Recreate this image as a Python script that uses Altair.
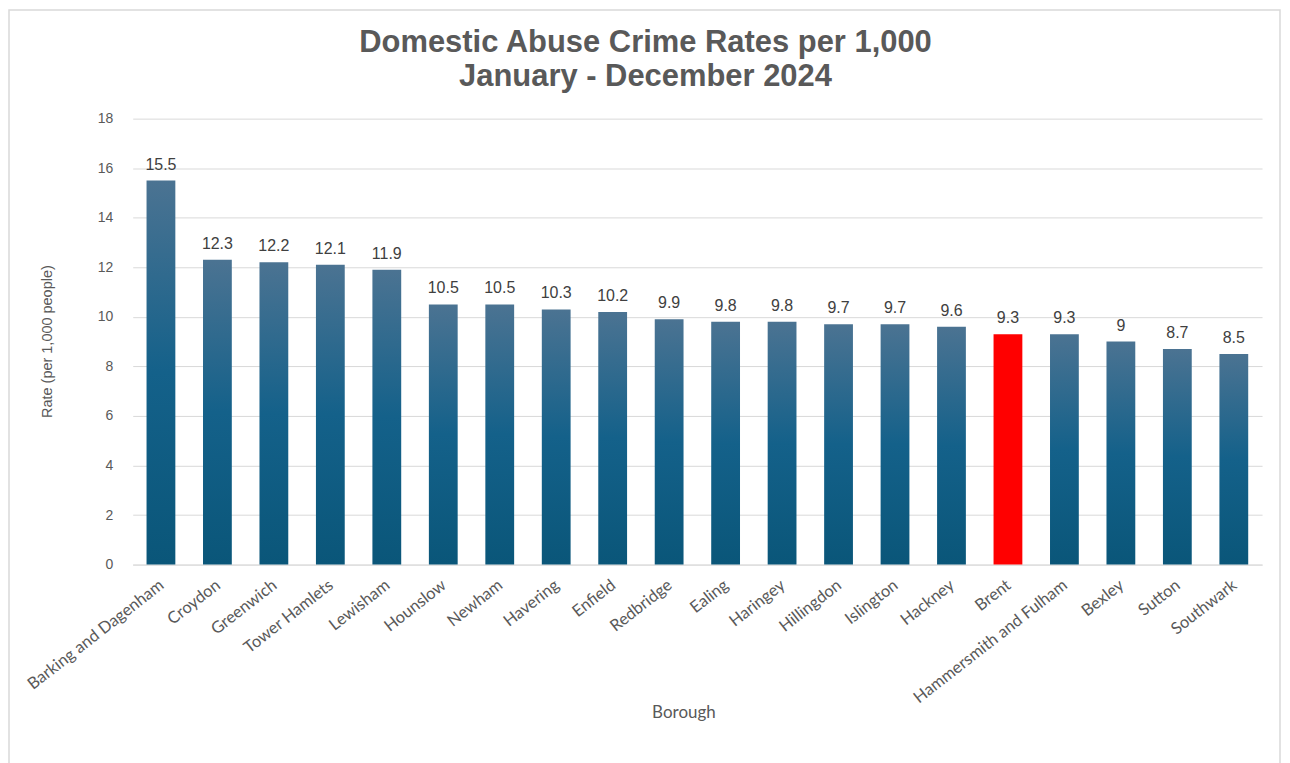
import altair as alt
import pandas as pd

boroughs = ["Barking and Dagenham", "Croydon", "Greenwich", "Tower Hamlets", "Lewisham",
            "Hounslow", "Newham", "Havering", "Enfield", "Redbridge", "Ealing", "Haringey",
            "Hillingdon", "Islington", "Hackney", "Brent", "Hammersmith and Fulham",
            "Bexley", "Sutton", "Southwark"]
rates = [15.5, 12.3, 12.2, 12.1, 11.9, 10.5, 10.5, 10.3, 10.2, 9.9, 9.8, 9.8,
         9.7, 9.7, 9.6, 9.3, 9.3, 9, 8.7, 8.5]
highlight = "Brent"
title_lines = ["Domestic Abuse Crime Rates per 1,000", "January - December 2024"]

df = pd.DataFrame({"Borough": boroughs, "Rate": rates})

grad = alt.Gradient(
    gradient="linear",
    stops=[alt.GradientStop(color="#4b7392", offset=0),
           alt.GradientStop(color="#14618a", offset=0.5),
           alt.GradientStop(color="#0a5679", offset=1)],
    x1=0, x2=0, y1=0, y2=1,
)

x_enc = alt.X(
    "Borough:N", sort=boroughs,
    scale=alt.Scale(paddingInner=0.49, paddingOuter=0.245),
    axis=alt.Axis(labelAngle=-38, labelAlign="right", labelBaseline="top",
                  labelFont="Lato", labelFontSize=16.5, labelColor="#595959",
                  labelPadding=12, labelOffset=-4, labelLimit=400, ticks=False,
                  domainColor="#d9d9d9",
                  titleFont="Lato", titleFontSize=17, titleColor="#595959",
                  titleFontWeight="normal", titleY=140, titleX=552),
    title="Borough",
)
y_enc = alt.Y(
    "Rate:Q",
    scale=alt.Scale(domain=[0, 18]),
    axis=alt.Axis(values=list(range(0, 19, 2)), labelFont="Liberation Sans",
                  labelFontSize=14, labelColor="#595959", labelPadding=20,
                  ticks=False, domain=False, gridColor="#d9d9d9",
                  titleFont="Liberation Sans", titleFontSize=14.5, titleColor="#595959",
                  titleFontWeight="normal", titleX=-78, titleY=223),
    title="Rate (per 1,000 people)",
)

base = alt.Chart(df).encode(x=x_enc, y=y_enc)

bars = base.mark_bar(color=grad).transform_filter(alt.datum.Borough != highlight)
red = base.mark_bar(color="#ff0000").transform_filter(alt.datum.Borough == highlight)
labels = base.mark_text(dy=-8, baseline="bottom", fontSize=16, color="#404040",
                        font="Liberation Sans").encode(text=alt.Text("Rate:Q"))

border = alt.Chart(pd.DataFrame({"a": [0]})).mark_rect(
    fill="transparent", stroke="#d9d9d9", strokeWidth=1.5
).encode(x=alt.value(-124), x2=alt.value(1150), y=alt.value(-109), y2=alt.value(650))

chart = alt.layer(bars, red, labels, border).properties(
    width=1132, height=447,
    padding={"left": 125, "top": 110, "right": 20, "bottom": 200},
    autosize=alt.AutoSizeParams(type="none"),
    title=alt.TitleParams(text=title_lines, fontSize=31, font="Liberation Sans",
                          fontWeight="bold", color="#595959", anchor="middle",
                          dx=-52, offset=-84, lineHeight=34),
).configure_view(strokeWidth=0)

chart.save("out.html", embed_options={"renderer": "svg", "actions": False})
